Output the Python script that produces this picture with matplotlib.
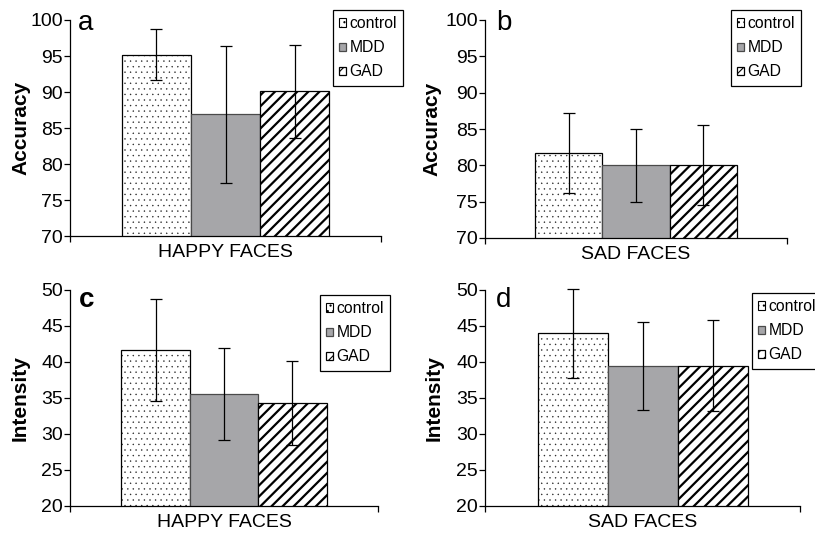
import numpy as np
import matplotlib
matplotlib.use("Agg")
import matplotlib.pyplot as plt

plt.rcParams['font.family'] = ['Liberation Sans', 'DejaVu Sans']

groups = ['control', 'MDD', 'GAD']

# accuracy, happy / sad faces
acc_happy = [95.2, 86.9, 90.1]
acc_happy_err = [3.55, 9.5, 6.45]
acc_sad = [81.7, 80.0, 80.0]
acc_sad_err = [5.5, 5.0, 5.5]

# intensity, happy / sad faces
int_happy = [41.7, 35.5, 34.3]
int_happy_err = [7.1, 6.4, 5.8]
int_sad = [44.0, 39.5, 39.5]
int_sad_err = [6.2, 6.1, 6.35]

panels = [
    # letter, ylabel, category, values, errors, ylim
    ('a', 'Accuracy', 'HAPPY FACES', acc_happy, acc_happy_err, (70, 100)),
    ('b', 'Accuracy', 'SAD FACES', acc_sad, acc_sad_err, (70, 100)),
    ('c', 'Intensity', 'HAPPY FACES', int_happy, int_happy_err, (20, 50)),
    ('d', 'Intensity', 'SAD FACES', int_sad, int_sad_err, (20, 50)),
]

W, H = 815, 535
# axes boxes in pixels: left, top, right, bottom
ax_px = [(70, 20, 381, 236), (485, 20, 787, 238), (70, 290, 378, 506), (485, 290, 800, 506)]
leg_px = [(333, 10), (731, 10), (320, 295), (752, 293)]
letter_px = [(78, 30), (496, 30), (79, 307), (496, 307)]
ylab_px = [21, 432, 20, 434]

faces = ['white', '#a6a6a9', 'white']
edges = ['#222222', '#4a4a4a', 'black']   # control edge only colours its dots
hatches = ['...', None, '///']
hatch_lw = [0.25, 1.0, 1.6]

fig = plt.figure(figsize=(W / 100, H / 100), dpi=100)

for i, (letter, ylab, cat, vals, errs, ylim) in enumerate(panels):
    l, t, r, b = ax_px[i]
    ax = fig.add_axes([l / W, 1 - b / H, (r - l) / W, (b - t) / H])
    x = np.arange(len(groups))
    for j in range(len(groups)):
        plt.rcParams['hatch.linewidth'] = hatch_lw[j]
        ax.bar(x[j], vals[j], width=1.0, color=faces[j],
               edgecolor=edges[j], linewidth=0 if j == 0 else 0.9,
               hatch=hatches[j], label=groups[j], zorder=2)
        if j == 0:
            # black outline over the dotted bar
            ax.bar(x[j], vals[j], width=1.0, fill=False, edgecolor='black',
                   linewidth=0.9, zorder=2)
        ax.errorbar(x[j], vals[j], yerr=errs[j], fmt='none', ecolor='black',
                    elinewidth=0.9, capsize=4, capthick=0.9, zorder=3,
                    clip_on=False)

    ax.set_xlim(-1.25, 3.25)
    ax.set_ylim(*ylim)
    ax.set_yticks(np.arange(ylim[0], ylim[1] + 1, 5))
    ax.tick_params(axis='y', labelsize=14, length=4, width=0.9, pad=1)
    ax.set_xticks([1], [cat])
    ax.tick_params(axis='x', labelsize=14, length=0, pad=6)
    ax.set_xticks([-1.25, 3.25], minor=True)
    ax.tick_params(axis='x', which='minor', length=4, width=0.9)
    for s in ['top', 'right']:
        ax.spines[s].set_visible(False)
    for s in ['left', 'bottom']:
        ax.spines[s].set_linewidth(0.9)
    ax.patch.set_alpha(0)

    plt.rcParams['hatch.linewidth'] = 0.8
    lx, ly = leg_px[i]
    leg = ax.legend(loc='upper left', bbox_to_anchor=(lx / W, 1 - ly / H),
                    bbox_transform=fig.transFigure, fontsize=11.3,
                    handlelength=0.45, handleheight=0.45, handletextpad=0.2,
                    labelspacing=0.58, borderpad=0.4, borderaxespad=0,
                    fancybox=False, framealpha=1, edgecolor='black')
    leg.get_frame().set_linewidth(0.9)
    handles = leg.get_patches()
    handles[0].set_edgecolor('black')
    handles[0].set_linewidth(0.8)

    fx, fy = letter_px[i]
    fig.text(fx / W, 1 - fy / H, letter, fontsize=20, va='baseline', ha='left',
             fontweight='bold' if letter == 'c' else 'normal')
    fig.text(ylab_px[i] / W, 1 - (t + b) / 2 / H, ylab, fontsize=15,
             fontweight='bold', rotation=90, ha='center', va='center')

fig.savefig('out.png', dpi=100)
